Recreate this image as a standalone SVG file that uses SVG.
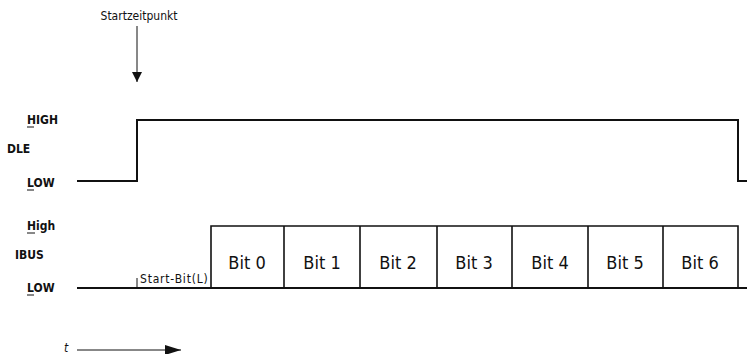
<svg xmlns="http://www.w3.org/2000/svg" width="747" height="354" viewBox="0 0 747 354">
<defs>
<style>
text{font-family:"Liberation Sans Narrow","DejaVu Sans Condensed","Liberation Sans",sans-serif;fill:#111}
.lbl{font-size:12px}
.side{font-size:12px;font-weight:bold}
.bit{font-size:18px;text-anchor:middle}
.sig{fill:none;stroke:#111;stroke-width:2}
.box{fill:none;stroke:#111;stroke-width:1.6}
.thin{fill:none;stroke:#111;stroke-width:1}
</style>
<marker id="ah" viewBox="0 0 10 10" refX="10" refY="5" markerWidth="10" markerHeight="10" markerUnits="userSpaceOnUse" orient="auto"><path d="M0,0 L10,5 L0,10 Z" fill="#111"/></marker>
<marker id="ah2" viewBox="0 0 16 10" refX="16" refY="5" markerWidth="16" markerHeight="10" markerUnits="userSpaceOnUse" orient="auto"><path d="M0,0 L16,5 L0,10 Z" fill="#111"/></marker>
</defs>
<g id="startzeitpunkt">
<text class="lbl" x="139" y="20" text-anchor="middle">Startzeitpunkt</text>
</g>
<g id="dle-labels">
<text class="side" x="27" y="124">HIGH</text>
<line class="thin" x1="27" y1="127" x2="34" y2="127"/>
<text class="side" x="7" y="153">DLE</text>
<text class="side" x="27" y="187">LOW</text>
<line class="thin" x1="27" y1="190" x2="34" y2="190"/>
</g>
<g id="ibus-labels">
<text class="side" x="27" y="230">High</text>
<line class="thin" x1="27" y1="233" x2="35" y2="233"/>
<text class="side" x="15" y="259">IBUS</text>
<text class="side" x="27" y="292">LOW</text>
<line class="thin" x1="27" y1="295" x2="34" y2="295"/>
<text class="lbl" x="140" y="283" letter-spacing="0.8">Start-Bit(L)</text>
</g>
<g id="bits">
<text class="bit" x="247" y="269">Bit  0</text>
<text class="bit" x="322" y="269">Bit 1</text>
<text class="bit" x="398" y="269">Bit 2</text>
<text class="bit" x="474" y="269">Bit 3</text>
<text class="bit" x="550" y="269">Bit 4</text>
<text class="bit" x="625" y="269">Bit 5</text>
<text class="bit" x="700" y="269">Bit 6</text>
</g>
<g id="time">
<text class="lbl" x="64" y="352" font-style="italic">t</text>
</g>
<g id="connectors">
<line class="thin" x1="137" y1="26" x2="137" y2="82" marker-end="url(#ah)"/>
<polyline class="sig" points="77,181 137,181 137,120 738,120 738,181 747,181"/>
<polyline class="sig" points="77,288 747,288"/>
<line class="thin" x1="137" y1="278" x2="137" y2="288"/>
<polyline class="box" points="211,288 211,226 738,226 738,288"/>
<line class="box" x1="284" y1="226" x2="284" y2="288"/>
<line class="box" x1="360" y1="226" x2="360" y2="288"/>
<line class="box" x1="437" y1="226" x2="437" y2="288"/>
<line class="box" x1="512" y1="226" x2="512" y2="288"/>
<line class="box" x1="588" y1="226" x2="588" y2="288"/>
<line class="box" x1="663" y1="226" x2="663" y2="288"/>
<line class="thin" x1="77" y1="350" x2="181" y2="350" marker-end="url(#ah2)"/>
</g>
</svg>
